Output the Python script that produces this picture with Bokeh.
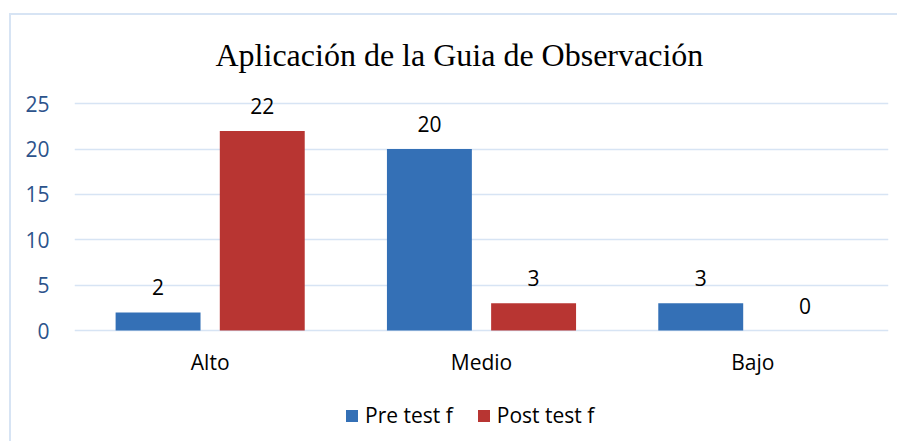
from bokeh.plotting import figure
from bokeh.layouts import column
from bokeh.models import ColumnDataSource, FactorRange, Range1d, FixedTicker, Legend, LegendItem
from bokeh.transform import dodge
from bokeh.core.properties import value
from bokeh.embed import file_html
from bokeh.resources import INLINE

categories = ["Alto", "Medio", "Bajo"]
pre_test = [2, 20, 3]
post_test = [22, 3, 0]
series_names = ["Pre test f", "Post test f"]
y_ticks = [0, 5, 10, 15, 20, 25]
title_text = "Aplicación de la Guia de Observación"

BLUE = "#3470b6"
RED = "#b83532"
GRID = "#d7e4f4"
AXIS_TXT = "#2c538c"
FONT = "Open Sans"

src = ColumnDataSource(dict(
    cat=categories,
    pre=pre_test,
    post=post_test,
    pre_lbl=[str(v) for v in pre_test],
    post_lbl=[str(v) for v in post_test],
    base=[0] * len(categories),
))

# frame extends below zero so that category labels and legend live inside it
p = figure(
    x_range=FactorRange(factors=categories, range_padding=0),
    y_range=Range1d(-12, 27),
    width=886, height=426,
    output_backend="svg", toolbar_location=None,
    min_border_left=63, min_border_right=9,
    min_border_top=70, min_border_bottom=2,
)
p.outline_line_color = None

bw = 0.313
off = 0.192
r1 = p.vbar(x=dodge("cat", -off, range=p.x_range), top="pre", width=bw, bottom=0,
            source=src, fill_color=BLUE, line_color=None)
r2 = p.vbar(x=dodge("cat", off, range=p.x_range), top="post", width=bw, bottom=0,
            source=src, fill_color=RED, line_color=None)

p.text(x=dodge("cat", -off, range=p.x_range), y="pre", text="pre_lbl", source=src,
       y_offset=-25, text_align="center", text_baseline="middle",
       text_font=value(FONT), text_font_size="21px", text_color="black")
p.text(x=dodge("cat", off, range=p.x_range), y="post", text="post_lbl", source=src,
       y_offset=-25, text_align="center", text_baseline="middle",
       text_font=value(FONT), text_font_size="21px", text_color="black")

# category labels
p.text(x="cat", y="base", text="cat", source=src,
       y_offset=31, text_align="center", text_baseline="middle",
       text_font=value(FONT), text_font_size="21px", text_color="black")

# title
p.title.text = title_text
p.title.text_font = "Liberation Serif"
p.title.text_font_size = "32px"
p.title.text_font_style = "normal"
p.title.align = "left"
p.title.offset = 141
p.title.standoff = 26
p.title.text_color = "black"

# axes
p.yaxis.ticker = FixedTicker(ticks=y_ticks)
p.yaxis.axis_line_color = None
p.yaxis.major_tick_line_color = None
p.yaxis.minor_tick_line_color = None
p.yaxis.major_label_standoff = 19
p.yaxis.major_label_text_font = FONT
p.yaxis.major_label_text_font_size = "21px"
p.yaxis.major_label_text_color = AXIS_TXT
p.xaxis.visible = False

p.xgrid.grid_line_color = None
p.ygrid.grid_line_color = GRID
p.ygrid.grid_line_width = 1.5
p.ygrid.ticker = FixedTicker(ticks=y_ticks)

legend = Legend(
    items=[LegendItem(label=series_names[0], renderers=[r1]),
           LegendItem(label=series_names[1], renderers=[r2])],
    orientation="horizontal", location=(270, 10),
    glyph_width=15, glyph_height=15, label_standoff=6, spacing=23,
    label_height=28,
    label_text_font=FONT, label_text_font_size="21px", label_text_color="black",
    background_fill_alpha=0, border_line_color=None, padding=0, margin=0,
)
p.add_layout(legend, "center")

layout = column(p, styles={
    "border-left": f"2px solid {GRID}",
    "border-top": f"2px solid {GRID}",
    "margin-left": "9px",
    "margin-top": "13px",
})

open("out.html", "w").write(file_html(layout, INLINE))
